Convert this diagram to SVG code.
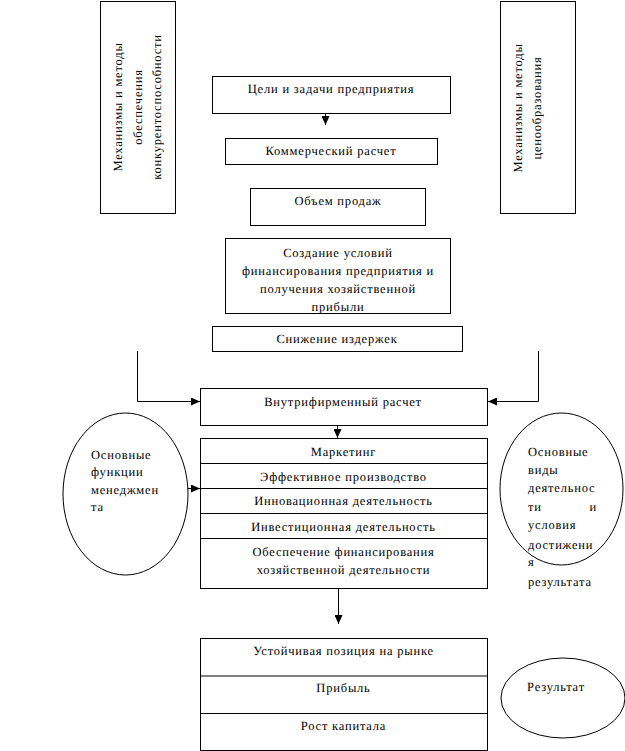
<svg xmlns="http://www.w3.org/2000/svg" width="625" height="751" viewBox="0 0 625 751">
<style>
.b{fill:#fff;stroke:#000;stroke-width:1}
.t{font-family:"Liberation Serif","Times New Roman",serif;font-size:12.5px;font-weight:normal;letter-spacing:0.8px;fill:#000;text-rendering:geometricPrecision}
.m{text-anchor:middle}
.c{fill:none;stroke:#000;stroke-width:1}
</style>
<defs>
<marker id="ah" markerUnits="userSpaceOnUse" markerWidth="10" markerHeight="8" refX="9" refY="4" orient="auto">
<path d="M0,0 L9,4 L0,8 Z" fill="#000"/>
</marker>
</defs>
<rect width="625" height="751" fill="#fff"/>
<g id="left-box">
<rect class="b" x="100.5" y="1.5" width="75" height="212"/>
<text class="t m" transform="translate(122,107) rotate(-90)">Механизмы и методы</text>
<text class="t m" transform="translate(142,107) rotate(-90)">обеспечения</text>
<text class="t m" transform="translate(161,107) rotate(-90)">конкурентоспособности</text>
</g>
<g id="right-box">
<rect class="b" x="500.5" y="1.5" width="75" height="212"/>
<text class="t m" transform="translate(522,108) rotate(-90)">Механизмы и методы</text>
<text class="t m" transform="translate(541,108) rotate(-90)">ценообразования</text>
</g>
<g id="goals">
<rect class="b" x="212.5" y="76.5" width="238" height="37"/>
<text class="t m" x="331" y="93">Цели и задачи предприятия</text>
</g>
<g id="commercial">
<rect class="b" x="225.5" y="138.5" width="212" height="26"/>
<text class="t m" x="331" y="155">Коммерческий расчет</text>
</g>
<g id="sales">
<rect class="b" x="250.5" y="188.5" width="175" height="37"/>
<text class="t m" x="338" y="205">Объем продаж</text>
</g>
<g id="conditions">
<rect class="b" x="225.5" y="238.5" width="225" height="75"/>
<text class="t m" x="338" y="257">Создание условий</text>
<text class="t m" x="338" y="275">финансирования предприятия и</text>
<text class="t m" x="338" y="293">получения хозяйственной</text>
<text class="t m" x="338" y="311">прибыли</text>
</g>
<g id="costs">
<rect class="b" x="212.5" y="326.5" width="250" height="25"/>
<text class="t m" x="337" y="343">Снижение издержек</text>
</g>
<g id="internal">
<rect class="b" x="200.5" y="388.5" width="287" height="37"/>
<text class="t m" x="343" y="406">Внутрифирменный расчет</text>
</g>
<g id="activities">
<rect class="b" x="200.5" y="438.5" width="287" height="150"/>
<path class="c" d="M200.5,463.5H487.5M200.5,488.5H487.5M200.5,513.5H487.5M200.5,538.5H487.5"/>
<text class="t m" x="343.5" y="455.5">Маркетинг</text>
<text class="t m" x="343.5" y="480.5">Эффективное производство</text>
<text class="t m" x="343.5" y="505">Инновационная деятельность</text>
<text class="t m" x="343.5" y="530.5">Инвестиционная деятельность</text>
<text class="t m" x="343.5" y="555.5">Обеспечение финансирования</text>
<text class="t m" x="343.5" y="574">хозяйственной деятельности</text>
</g>
<g id="functions">
<ellipse class="b" cx="125.5" cy="494" rx="62.5" ry="81"/>
<text class="t" x="91" y="459">Основные</text>
<text class="t" x="91" y="476">функции</text>
<text class="t" x="91" y="494">менеджмен</text>
<text class="t" x="91" y="511">та</text>
</g>
<g id="kinds">
<ellipse class="b" cx="561.5" cy="489" rx="61.5" ry="76"/>
<text class="t" x="528" y="456">Основные</text>
<text class="t" x="528" y="474">виды</text>
<text class="t" x="528" y="492">деятельнос</text>
<text class="t" x="528" y="511">ти</text>
<text class="t" x="597" y="511" text-anchor="end">и</text>
<text class="t" x="528" y="529">условия</text>
<text class="t" x="528" y="549">достижени</text>
<text class="t" x="528" y="566">я</text>
<text class="t" x="528" y="586">результата</text>
</g>
<g id="results">
<rect class="b" x="200.5" y="638.5" width="287" height="112"/>
<path class="c" d="M200.5,676H487.5M200.5,713.5H487.5"/>
<text class="t m" x="343.5" y="655">Устойчивая позиция на рынке</text>
<text class="t m" x="343.5" y="692">Прибыль</text>
<text class="t m" x="343.5" y="730">Рост капитала</text>
</g>
<g id="result-label">
<ellipse class="b" cx="563" cy="698" rx="62" ry="40"/>
<text class="t m" x="556" y="691">Результат</text>
</g>
<g id="connectors">
<path class="c" d="M325.5,113.5V125" marker-end="url(#ah)"/>
<path class="c" d="M137.5,351V401.5H200" marker-end="url(#ah)"/>
<path class="c" d="M538.5,351V401.5H488" marker-end="url(#ah)"/>
<path class="c" d="M337.5,425.5V438" marker-end="url(#ah)"/>
<path class="c" d="M188,488.5H200" marker-end="url(#ah)"/>
<path class="c" d="M338.5,588.5V624" marker-end="url(#ah)"/>
</g>
</svg>
